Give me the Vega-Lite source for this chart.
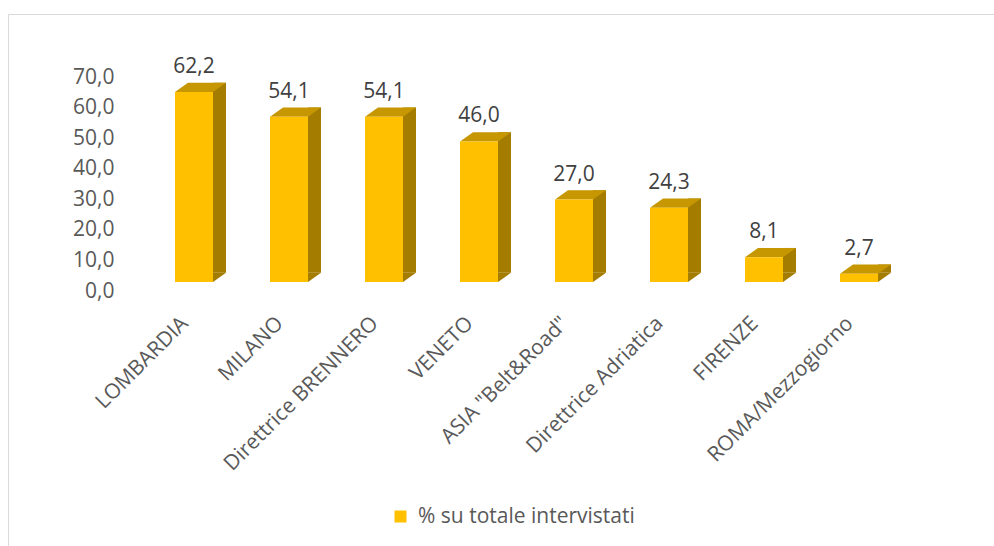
{
  "$schema": "https://vega.github.io/schema/vega-lite/v6.json",
  "autosize": "none",
  "padding": {"left": 8, "top": 14, "right": -2, "bottom": -2},
  "width": 988,
  "height": 534,
  "background": "white",
  "config": {
    "locale": {"number": {"decimal": ",", "thousands": ".", "grouping": [3], "currency": ["", " €"]}},
    "view": {"stroke": "#d9d9d9", "strokeWidth": 1},
    "font": "Open Sans"
  },
  "data": {
    "values": [
      {"area": "LOMBARDIA", "v": 62.2},
      {"area": "MILANO", "v": 54.1},
      {"area": "Direttrice BRENNERO", "v": 54.1},
      {"area": "VENETO", "v": 46.0},
      {"area": "ASIA \"Belt&Road\"", "v": 27.0},
      {"area": "Direttrice Adriatica", "v": 24.3},
      {"area": "FIRENZE", "v": 8.1},
      {"area": "ROMA/Mezzogiorno", "v": 2.7}
    ]
  },
  "encoding": {
    "x": {
      "field": "area", "type": "nominal", "sort": null,
      "scale": {"range": [167, 870], "paddingInner": 0.6, "paddingOuter": 0},
      "axis": {
        "title": null, "orient": "bottom", "offset": -228, "labelPadding": 0,
        "ticks": false, "tickSize": 0, "domain": false, "grid": false,
        "labelAngle": -45, "labelAlign": "right", "labelBaseline": "middle",
        "labelFontSize": 21, "labelColor": "#595959", "labelFont": "Open Sans",
        "labelOverlap": false, "labelBound": false, "labelLimit": 400, "labelOffset": -9
      }
    }
  },
  "layer": [
    {
      "mark": {"type": "bar", "width": 13, "xOffset": 25.5, "yOffset": -9.3, "y2Offset": -9.3, "color": "#A47C00"},
      "encoding": {
        "y": {
          "field": "v", "type": "quantitative",
          "scale": {"domain": [-87.07, 87.73], "nice": false, "zero": false},
          "axis": {
            "title": null, "values": [0, 10, 20, 30, 40, 50, 60, 70], "format": ".1f",
            "offset": -106, "labelPadding": 0, "ticks": false, "tickSize": 0,
            "domain": false, "grid": false, "labelOffset": 9,
            "labelFontSize": 21, "labelColor": "#595959", "labelFont": "Open Sans"
          }
        },
        "y2": {"datum": 0}
      }
    },
    {
      "mark": {"type": "point", "shape": "M0.475,-0.2325L0.8,-0.2325L0.475,0Z", "size": 6400, "filled": true, "opacity": 1, "color": "#A47C00", "strokeWidth": 0},
      "encoding": {"y": {"datum": 0, "type": "quantitative"}}
    },
    {
      "mark": {"type": "point", "shape": "M-0.475,0L0.475,0L0.8,-0.2325L-0.15,-0.2325Z", "size": 6400, "filled": true, "opacity": 1, "color": "#C69700", "strokeWidth": 0},
      "encoding": {"y": {"field": "v", "type": "quantitative"}}
    },
    {
      "mark": {"type": "bar", "width": 38},
      "encoding": {
        "y": {"field": "v", "type": "quantitative"},
        "y2": {"datum": 0},
        "color": {
          "datum": "% su totale intervistati",
          "scale": {"range": ["#FFC000"]},
          "legend": {
            "title": null, "orient": "none", "legendX": 382, "legendY": 492,
            "padding": 0, "symbolType": "square", "symbolSize": 144, "symbolStrokeWidth": 0,
            "labelFontSize": 21, "labelColor": "#595959", "labelFont": "Open Sans",
            "labelOffset": 7, "labelLimit": 400
          }
        }
      }
    },
    {
      "mark": {"type": "text", "baseline": "alphabetic", "dy": -19, "fontSize": 21, "color": "#404040", "font": "Open Sans"},
      "encoding": {
        "y": {"field": "v", "type": "quantitative"},
        "text": {"field": "v", "type": "quantitative", "format": ".1f"}
      }
    }
  ]
}
